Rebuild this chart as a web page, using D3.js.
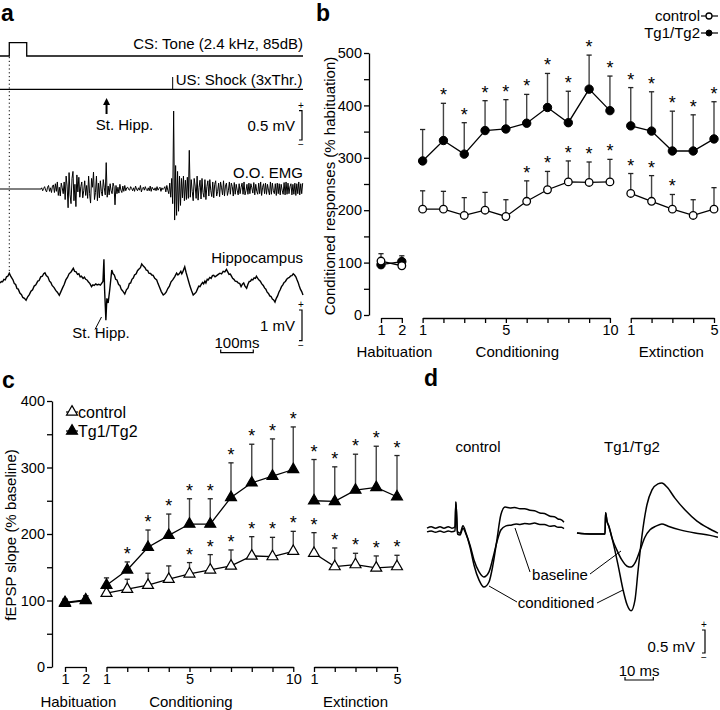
<!DOCTYPE html>
<html><head><meta charset="utf-8">
<script src="https://cdn.jsdelivr.net/npm/d3@7"></script>
<style>
body{margin:0;background:#fff;}
svg text{font-family:"Liberation Sans",Arial,Helvetica,sans-serif;fill:#000;}
</style></head><body>
<svg id="fig" width="720" height="710"></svg>
<script>
// ---------------- DATA ----------------
// Panel a: stimulus timing (ms)
const toneOn = 28.5, toneOff = 82, shockTime = 530, stimHippTime = 327;
// EMG trace, sampled every 3 ms starting at 128 ms (units: 0.01 mV)
const emgBurst1 = [2,-3,1,4,-2,-5,3,6,-4,2,-6,5,7,-6,
  9,-4,12,-11,3,-12,10,2,-8,12,
  -18,22,5,-32,28,-10,-25,18,30,-20,8,-30,24,-5,20,
  -14,4,12,-15,-3,14,-11,6,
  -16,22,-8,-24,18,3,29,-18,-6,22,-20,10,-15,
  14,-4,-12,16,2,-10,45,-14,5,-10,
  9,-3,-8,10,4,-27,6,-8,3,-7,8,-2,-6,5,-4,6,-3,2];
const emgQuiet = [3,-1,-2,4,1,-3,2,-4,5,0,-3,2,-2,6,-5,1,3,-2,4,-1,-3,2,-3,5,-4,3,0,-2,2,-3,4,-2,1,3,-4,2,-1];
const emgBurst2 = [1,4,-5,6,-2,-8,10,-14,
  18,-25,133,-53,40,-45,30,-38,22,-28,
  18,-15,22,-20,15,-18,20,-16,66,-14,
  16,-4,-20,18,5,-16,22,-19,3,15,
  -17,18,-6,-14,16,-18,4,14,-12,16,
  -3,-13,12,-15,8,14,-12,-4,10,-13,
  12,2,-10,14,-12,5,10,-11,-3,12,
  -9,10,4,-12,11,-9,8,-2,-10,9,
  -8,3,10,-9,12,-10,-3,8,-9,10,
  -8,9,2,-7,11,-10,8,-4,-9,10,
  -8,12,-11,3,9,-8,10,-9,8,-2,
  -10,12,-9,10,-3,-8,9,-11,10,-8,
  9,-10,8,-2,-9,11,-10,12,-9,10,
  -8,4,9,-10,8,-9,10,-11,9,-8,
  12,-10,9,-8,10];
// Hippocampal field trace [ms, mV]
const hippTrace = [[0,0],[4,0.05],[8,0.04],[12,0.12],[16,0.1],[20,0.2],[24,0.22],[28.5,0.32],[32,0.24],[36,0.17],[40,0.1],[44,-0.02],[48,-0.05],[52,-0.18],[56,-0.2],[61,-0.33],[66,-0.38],[70,-0.47],[75,-0.5],[80,-0.56],[85,-0.45],[90,-0.38],[95,-0.27],[100,-0.22],[105,-0.1],[110,-0.06],[116,0.06],[120,0.08],[125,0.2],[130,0.22],[134,0.3],[138,0.33],[142,0.24],[147,0.2],[152,0.06],[156,0.02],[160,-0.08],[166,-0.15],[171,-0.24],[176,-0.3],[182,-0.4],[187,-0.28],[192,-0.16],[197,-0.05],[202,0.1],[207,0.18],[212,0.3],[218,0.36],[225,0.48],[229,0.38],[233,0.37],[238,0.28],[242,0.3],[246,0.2],[250,0.22],[255,0.15],[259,0.19],[263,0.12],[267,0.1],[271,0.04],[276,-0.02],[281,-0.12],[285,-0.06],[289,-0.08],[294,-0.03],[298,-0.06],[303,-0.04],[308,-0.07],[312,-0.01],[316,0.05],[319,0.77],[321,-0.2],[325,-1.21],[328,-0.5],[332,-0.65],[337,-0.2],[343,0.42],[347,0.3],[351,0.26],[355,0.12],[359,0.1],[364,-0.05],[368,-0.08],[372,-0.2],[376,-0.25],[383,-0.36],[388,-0.22],[393,-0.16],[397,-0.02],[401,0.0],[405,0.12],[409,0.16],[413,0.26],[418,0.3],[422,0.4],[426,0.45],[431,0.5],[435,0.62],[440,0.55],[445,0.5],[449,0.42],[453,0.41],[457,0.32],[462,0.31],[466,0.26],[470,0.25],[475,0.15],[481,0.1],[485,-0.02],[490,-0.15],[495,-0.28],[501,-0.39],[506,-0.35],[510,-0.3],[515,-0.18],[520,-0.1],[525,0.04],[530,0.1],[536,0.2],[542,0.32],[546,0.26],[550,0.3],[555,0.38],[558,0.3],[561,0.36],[564,0.45],[567,0.53],[571,0.35],[575,0.2],[579,0.05],[583,-0.1],[588,-0.25],[593,-0.39],[598,-0.34],[602,-0.3],[606,-0.2],[610,-0.1],[614,-0.12],[618,-0.04],[622,0.02],[625,-0.03],[629,0.06],[632,0.0],[636,0.12],[639,0.1],[644,0.18],[648,0.15],[652,0.24],[656,0.25],[660,0.2],[665,0.24],[670,0.28],[675,0.32],[680,0.3],[685,0.38],[690,0.36],[695,0.44],[699,0.36],[703,0.28],[707,0.29],[710,0.23],[714,0.15],[718,0.12],[722,0.06],[727,0.05],[731,0.0],[736,-0.02],[740,-0.12],[744,-0.04],[748,0.0],[752,-0.1],[757,-0.17],[761,-0.04],[765,0.05],[769,0.06],[772,0.12],[776,0.1],[780,0.17],[784,0.15],[787,0.22],[791,0.15],[795,0.1],[799,0.06],[803,-0.02],[808,-0.08],[812,-0.16],[816,-0.2],[820,-0.3],[824,-0.34],[828,-0.42],[832,-0.44],[836,-0.52],[840,-0.55],[844,-0.62],[848,-0.5],[852,-0.42],[856,-0.3],[860,-0.22],[864,-0.12],[868,-0.06],[872,0.02],[876,0.05],[880,0.12],[884,0.16],[888,0.18],[892,0.23],[896,0.24],[900,0.3],[904,0.26],[908,0.2],[911,0.12],[915,0.02],[918,-0.08],[922,-0.2],[926,-0.28],[930,-0.39]];

// Session tick labels & group names
const habTicks = [1,2], condTicks = [1,5,10], extTicks = [1,5];
const groupNames = ["Habituation","Conditioning","Extinction"];
const seriesNames = ["control","Tg1/Tg2"];

// Panel b: conditioned responses (% habituation), mean and +SEM
const bCtrlHab = [103, 94],   bCtrlHabSem = [14, 6];
const bTgHab   = [96, 102],   bTgHabSem   = [8, 11];
const bCtrlCond = [202,202,190,200,188,217,239,254,253,254];
const bCtrlCondSem = [35,34,34,34,32,39,35,40,39,43];
const bCtrlExt = [232,217,202,190,202];
const bCtrlExtSem = [38,49,28,30,41];
const bTgCond = [294,333,307,352,355,366,396,367,431,390];
const bTgCondSem = [60,71,60,57,56,55,65,60,65,66];
const bTgExt = [361,351,313,313,336];
const bTgExtSem = [73,75,76,69,71];
const bCtrlStars = [0,0,0,0,0,1,1,1,1,1, 1,1,1,0,0];
const bTgStars   = [0,1,1,1,1,1,1,1,1,1, 1,1,1,1,1];

// Panel c: fEPSP slope (% baseline)
const cCtrlHab = [97, 101], cCtrlHabSem = [5, 6];
const cTgHab = [96, 100],   cTgHabSem = [6, 7];
const cCtrlCond = [111,117,123,132,140,146,152,167,166,174];
const cCtrlCondSem = [7,15,18,20,17,23,24,29,29,30];
const cCtrlExt = [171,151,154,149,151];
const cCtrlExtSem = [31,28,17,18,17];
const cTgCond = [123,146,180,198,215,215,255,277,287,297];
const cTgCondSem = [11,12,26,32,38,38,52,58,56,64];
const cTgExt = [250,249,266,270,256];
const cTgExtSem = [62,52,54,62,62];
const cCtrlStars = [0,0,0,0,1,1,1,1,1,1, 1,1,1,1,1];
const cTgStars   = [0,1,1,1,1,1,1,1,1,1, 1,1,1,1,1];

// Panel d: fEPSP traces [ms, mV]
const dCtrlBaseline = [[0,-0.04],[1.5,-0.02],[3,-0.05],[4.6,-0.02],[6,-0.05],[7.5,-0.02],[8.8,-0.04],[9.9,-0.02],[10.2,0.61],[10.8,-0.09],[11.7,-0.11],[12.7,0.04],[13.8,-0.09],[15.2,-0.33],[16.6,-0.65],[18.4,-0.91],[20.1,-1.02],[21.9,-0.91],[23.3,-0.61],[24.7,-0.26],[26.1,0],[27.9,0.09],[30,0.11],[31.5,0.13],[32.9,0.12],[34.5,0.14],[36.4,0.13],[38,0.15],[39.9,0.12],[41.5,0.12],[43.5,0.08],[45,0.09],[46.3,0.06],[47.5,0.06],[48.4,0.03]];
const dCtrlConditioned = [[0,0.04],[1.5,0.07],[3,0.04],[4.6,0.07],[6,0.04],[7.5,0.07],[8.8,0.04],[9.9,0.07],[10.2,0.61],[10.8,-0.04],[11.7,-0.07],[12.7,0.09],[13.8,-0.07],[15.2,-0.37],[16.6,-0.76],[18.4,-1.09],[20.1,-1.24],[21.9,-1.13],[23.3,-0.76],[24.7,-0.22],[26.1,0.33],[27.6,0.5],[29.3,0.48],[31,0.49],[32.9,0.46],[34.5,0.46],[36.4,0.43],[38,0.42],[39.9,0.37],[41.5,0.36],[43.5,0.3],[45,0.29],[46.3,0.24],[47.5,0.22],[48.4,0.17]];
const dTgBaseline = [[0,0.02],[4.6,0],[8.1,0],[9.9,0],[10.1,0.46],[10.6,0.28],[11.3,0.17],[12.4,-0.09],[14.1,-0.35],[15.9,-0.57],[17.7,-0.7],[19.1,-0.72],[20.5,-0.63],[22.3,-0.35],[24,-0.07],[25.8,0.09],[27.9,0.17],[30,0.22],[32.2,0.17],[36.4,0.09],[41.7,0.02],[47,-0.03],[49.8,-0.07]];
const dTgConditioned = [[0,0.02],[4.6,0],[8.1,0],[9.9,0],[10.1,0.46],[10.6,0.28],[11.3,0.15],[12.7,-0.17],[14.5,-0.67],[16.3,-1.22],[17.7,-1.54],[19.1,-1.67],[20.5,-1.43],[21.6,-0.78],[23,-0.02],[24.7,0.63],[26.5,0.96],[28.6,1.09],[30,1.11],[31.8,1.02],[34.6,0.78],[38.2,0.52],[42.4,0.28],[46.3,0.13],[49.8,0.02]];

// ---------------- DRAWING ----------------
const FONT = '"Liberation Sans", Arial, Helvetica, sans-serif';
const svg = d3.select("#fig");
const INK = "#000";

function txt(g, x, y, s, opts={}) {
  const t = g.append("text").attr("x", x).attr("y", y).text(s)
    .attr("font-size", opts.size || 15).attr("font-family", FONT)
    .attr("text-anchor", opts.anchor || "start");
  if (opts.weight) t.attr("font-weight", opts.weight);
  if (opts.transform) t.attr("transform", opts.transform);
  return t;
}
function styleAxis(g, fs) {
  g.attr("font-family", FONT);
  g.selectAll("text").attr("font-size", fs).attr("font-family", FONT).attr("fill", INK);
  g.selectAll("path,line").attr("stroke", INK).attr("stroke-width", 1.3);
}

// panel letters
[["a",1,21],["b",316,21],["c",2,388],["d",424,386]].forEach(([s,x,y]) =>
  txt(svg, x, y, s, {size: 23, weight: "bold"}));

// ===== Panel a =====
const ga = svg.append("g");
const tA = d3.scaleLinear().domain([0, 930]).range([0, 303]);
const emgY = d3.scaleLinear().domain([0, 1]).range([189, 189 - 58.6]);
const hipY = d3.scaleLinear().domain([0, 1]).range([283, 283 - 30.7]);
const lineAB = d3.line();
ga.append("path").attr("fill","none").attr("stroke",INK).attr("stroke-width",1.3)
  .attr("d", lineAB([[tA(0),56],[tA(toneOn),56],[tA(toneOn),42.7],[tA(toneOff),42.7],[tA(toneOff),56],[tA(930),56]]));
txt(ga, 303, 49, "CS: Tone (2.4 kHz, 85dB)", {anchor:"end"});
ga.append("path").attr("fill","none").attr("stroke",INK).attr("stroke-width",1.3)
  .attr("d", lineAB([[tA(0),89.3],[tA(930),89.3]]));
ga.append("line").attr("x1",tA(shockTime)).attr("x2",tA(shockTime)).attr("y1",89.3).attr("y2",77).attr("stroke",INK).attr("stroke-width",1);
txt(ga, tA(shockTime)+3, 85, "US: Shock (3xThr.)");
ga.append("line").attr("x1",tA(toneOn)).attr("x2",tA(toneOn)).attr("y1",57).attr("y2",272)
  .attr("stroke",INK).attr("stroke-width",1).attr("stroke-dasharray","1.2,2.6");
ga.append("line").attr("x1",tA(stimHippTime)).attr("x2",tA(stimHippTime)).attr("y1",114).attr("y2",103).attr("stroke",INK).attr("stroke-width",2);
ga.append("path").attr("fill",INK).attr("d", `M${tA(stimHippTime)-3.5},${105} L${tA(stimHippTime)},${98} L${tA(stimHippTime)+3.5},${105} Z`);
txt(ga, tA(stimHippTime)+18, 130, "St. Hipp.", {anchor:"middle"});
const emgBarTop = 110.7, emgBarLen = emgY(0) - emgY(0.5);
ga.append("path").attr("fill","none").attr("stroke",INK).attr("stroke-width",1.2)
  .attr("d", `M299,${emgBarTop} H302 V${emgBarTop+emgBarLen} H299`);
txt(ga, 301, emgBarTop-2, "+", {size:10, anchor:"middle"});
txt(ga, 301, emgBarTop+emgBarLen+8, "−", {size:10, anchor:"middle"});
txt(ga, 295, 131, "0.5 mV", {anchor:"end"});
txt(ga, 303, 178, "O.O. EMG", {anchor:"end"});
const emgAll = emgBurst1.concat(emgQuiet, emgBurst2);
const emgPts = [[0,0],[126,0]].concat(emgAll.map((v,k)=>[128+3*k, v/100]));
ga.append("path").attr("fill","none").attr("stroke",INK).attr("stroke-width",1)
  .attr("d", d3.line().x(d=>tA(d[0])).y(d=>emgY(d[1]))(emgPts.filter(d=>d[0]<=931)));
txt(ga, 303, 263, "Hippocampus", {anchor:"end"});
ga.append("path").attr("fill","none").attr("stroke",INK).attr("stroke-width",1.4)
  .attr("d", d3.line().x(d=>tA(d[0])).y(d=>hipY(d[1]))(hippTrace));
ga.append("line").attr("x1",95).attr("y1",329.5).attr("x2",101.5).attr("y2",317).attr("stroke",INK).attr("stroke-width",1);
txt(ga, 101, 338, "St. Hipp.", {anchor:"middle"});
const hipBarTop = 310, hipBarLen = hipY(0) - hipY(1);
ga.append("path").attr("fill","none").attr("stroke",INK).attr("stroke-width",1.2)
  .attr("d", `M299,${hipBarTop} H302 V${hipBarTop+hipBarLen} H299`);
txt(ga, 301, hipBarTop-2, "+", {size:10, anchor:"middle"});
txt(ga, 301, hipBarTop+hipBarLen+8, "−", {size:10, anchor:"middle"});
txt(ga, 295, 331, "1 mV", {anchor:"end"});
const msBarX = 220.7, msBarLen = tA(100) - tA(0);
ga.append("path").attr("fill","none").attr("stroke",INK).attr("stroke-width",1.2)
  .attr("d", `M${msBarX},${349.5} V${352.7} H${msBarX+msBarLen} V${349.5}`);
txt(ga, msBarX+msBarLen/2, 347.5, "100ms", {anchor:"middle"});

// ===== Shared plotting for b and c =====
function buildPoints(hab, habSem, cond, condSem, ext, extSem, stars) {
  const pts = [];
  hab.forEach((v,i)=>pts.push({seg:0, idx:i, v, e:habSem[i], s:0}));
  cond.forEach((v,i)=>pts.push({seg:1, idx:2+i, v, e:condSem[i], s:stars[i]}));
  ext.forEach((v,i)=>pts.push({seg:2, idx:12+i, v, e:extSem[i], s:stars[10+i]}));
  return pts;
}
function drawSeries(g, x, y, pts, markerFn) {
  const eg = g.append("g");
  pts.forEach(p => {
    const cx = x(p.idx), y0 = y(p.v), y1 = y(p.v + p.e);
    eg.append("line").attr("x1",cx).attr("x2",cx).attr("y1",y0).attr("y2",y1).attr("stroke","#444").attr("stroke-width",1.4);
    eg.append("line").attr("x1",cx-2.6).attr("x2",cx+2.6).attr("y1",y1).attr("y2",y1).attr("stroke","#222").attr("stroke-width",1.3);
    if (p.s) txt(eg, cx, y1 - 2, "*", {size:18, anchor:"middle"}).attr("fill","#222");
  });
  [0,1,2].forEach(s => {
    const sp = pts.filter(p=>p.seg===s);
    g.append("path").attr("fill","none").attr("stroke",INK).attr("stroke-width",1.3)
      .attr("d", d3.line().x(p=>x(p.idx)).y(p=>y(p.v))(sp));
  });
  pts.forEach(p => markerFn(g, x(p.idx), y(p.v)));
}
function segAxes(g, x, yPos, groupLabelY, labelDx) {
  const segs = [{start:0,n:2,labels:habTicks},{start:2,n:10,labels:condTicks},{start:12,n:5,labels:extTicks}];
  segs.forEach((s, k) => {
    const sc = d3.scaleLinear().domain([1, s.n]).range([x(s.start), x(s.start + s.n - 1)]);
    const ax = g.append("g").attr("transform", `translate(0,${yPos})`)
      .call(d3.axisBottom(sc).tickValues(d3.range(1, s.n + 1))
        .tickFormat(d => s.labels.includes(d) ? d : "").tickSize(5).tickSizeOuter(0).tickPadding(2));
    styleAxis(ax, 14.5);
    txt(g, (x(s.start) + x(s.start + s.n - 1)) / 2 + labelDx[k], groupLabelY, groupNames[k], {anchor:"middle"});
  });
}
const circleOpen = (g,cx,cy)=>g.append("circle").attr("cx",cx).attr("cy",cy).attr("r",3.8).attr("fill","#fff").attr("stroke",INK).attr("stroke-width",1.3);
const circleFill = (g,cx,cy)=>g.append("circle").attr("cx",cx).attr("cy",cy).attr("r",4.2).attr("fill",INK).attr("stroke",INK).attr("stroke-width",1);
const triSym = d3.symbol().type(d3.symbolTriangle).size(52)();
const triOpen = (g,cx,cy)=>g.append("path").attr("d",triSym).attr("transform",`translate(${cx},${cy})`).attr("fill","#fff").attr("stroke",INK).attr("stroke-width",1.2);
const triFill = (g,cx,cy)=>g.append("path").attr("d",triSym).attr("transform",`translate(${cx},${cy})`).attr("fill",INK).attr("stroke",INK).attr("stroke-width",1.2);

// ===== Panel b =====
const gb = svg.append("g");
const bx = d3.scaleLinear().domain([0, 16]).range([381, 714]);
const by = d3.scaleLinear().domain([0, 500]).range([315, 53]);
const bYAx = gb.append("g").attr("transform","translate(369,0)")
  .call(d3.axisLeft(by).tickValues(d3.range(0,501,50)).tickFormat(d=>d%100===0?d:"").tickSize(5).tickSizeOuter(0).tickPadding(2));
styleAxis(bYAx, 14.5);
txt(gb, 0, 0, "Conditioned responses (% habituation)", {anchor:"middle", transform:"translate(335,186) rotate(-90)"});
segAxes(gb, bx, 318, 357, [3, 1, -1]);
drawSeries(gb, bx, by, buildPoints(bTgHab,bTgHabSem,bTgCond,bTgCondSem,bTgExt,bTgExtSem,bTgStars), circleFill);
drawSeries(gb, bx, by, buildPoints(bCtrlHab,bCtrlHabSem,bCtrlCond,bCtrlCondSem,bCtrlExt,bCtrlExtSem,bCtrlStars), circleOpen);
[[seriesNames[0],21,16,circleOpen],[seriesNames[1],38,33,circleFill]].forEach(([s,ty,ly,mk])=>{
  txt(gb, 700, ty, s, {anchor:"end"});
  gb.append("line").attr("x1",701).attr("x2",718).attr("y1",ly).attr("y2",ly).attr("stroke",INK).attr("stroke-width",1.2);
  const m = mk(gb, 709, ly); m.attr("r", 3);
});

// ===== Panel c =====
const gc = svg.append("g");
const cx = d3.scaleLinear().domain([0, 16]).range([65, 397]);
const cy = d3.scaleLinear().domain([0, 400]).range([667, 401]);
const cYAx = gc.append("g").attr("transform","translate(52,0)")
  .call(d3.axisLeft(cy).tickValues(d3.range(0,401,50)).tickFormat(d=>d%100===0?d:"").tickSize(5).tickSizeOuter(0).tickPadding(2));
styleAxis(cYAx, 14.5);
txt(gc, 0, 0, "fEPSP slope (% baseline)", {anchor:"middle", transform:"translate(16,535) rotate(-90)"});
segAxes(gc, cx, 667, 707, [3, -9, 0]);
drawSeries(gc, cx, cy, buildPoints(cCtrlHab,cCtrlHabSem,cCtrlCond,cCtrlCondSem,cCtrlExt,cCtrlExtSem,cCtrlStars), triOpen);
drawSeries(gc, cx, cy, buildPoints(cTgHab,cTgHabSem,cTgCond,cTgCondSem,cTgExt,cTgExtSem,cTgStars), triFill);
[[seriesNames[0],412,triOpen],[seriesNames[1],431,triFill]].forEach(([s,ly,mk])=>{
  gc.append("line").attr("x1",66).attr("x2",78).attr("y1",ly).attr("y2",ly).attr("stroke",INK).attr("stroke-width",1.2);
  mk(gc, 72, ly);
  txt(gc, 78, ly+5.5, s, {size:16});
});

// ===== Panel d =====
const gd = svg.append("g");
const xdC = d3.scaleLinear().domain([0, 10]).range([427, 455.3]);
const ydC = d3.scaleLinear().domain([0, 1]).range([530, 484]);
const xdT = d3.scaleLinear().domain([0, 10]).range([577, 605.3]);
const ydT = d3.scaleLinear().domain([0, 1]).range([534, 488]);
const trace = (data, xs, ys) => gd.append("path").attr("fill","none").attr("stroke",INK).attr("stroke-width",1.5)
  .attr("d", d3.line().x(d=>xs(d[0])).y(d=>ys(d[1])).curve(d3.curveMonotoneX)(data));
trace(dCtrlBaseline, xdC, ydC);
trace(dCtrlConditioned, xdC, ydC);
trace(dTgBaseline, xdT, ydT);
trace(dTgConditioned, xdT, ydT);
txt(gd, 478, 452, "control", {anchor:"middle"});
txt(gd, 632, 452, "Tg1/Tg2", {anchor:"middle"});
txt(gd, 560, 580, "baseline", {anchor:"middle"});
txt(gd, 556, 608, "conditioned", {anchor:"middle"});
const ptr = (x1,y1,x2,y2)=>gd.append("line").attr("x1",x1).attr("y1",y1).attr("x2",x2).attr("y2",y2).attr("stroke",INK).attr("stroke-width",1);
ptr(515,528,530,572);
ptr(590,574,621,551);
ptr(489,586,517,602);
ptr(597,603,623,590);
const dBarTop = 630, dBarLen = ydT(0) - ydT(0.5);
gd.append("path").attr("fill","none").attr("stroke",INK).attr("stroke-width",1.2)
  .attr("d", `M702,${dBarTop} H705 V${dBarTop+dBarLen} H702`);
txt(gd, 704, dBarTop-2, "+", {size:10, anchor:"middle"});
txt(gd, 704, dBarTop+dBarLen+8, "−", {size:10, anchor:"middle"});
txt(gd, 695, 652, "0.5 mV", {anchor:"end"});
const dMsX = 625, dMsLen = xdT(10) - xdT(0);
gd.append("path").attr("fill","none").attr("stroke",INK).attr("stroke-width",1.2)
  .attr("d", `M${dMsX},${677} V${680} H${dMsX+dMsLen} V${677}`);
txt(gd, dMsX+dMsLen/2, 675.5, "10 ms", {anchor:"middle"});
</script></body></html>
